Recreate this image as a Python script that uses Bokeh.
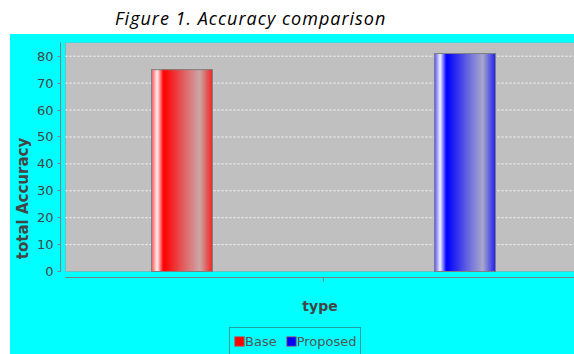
from bokeh.plotting import figure
from bokeh.models import Range1d, FixedTicker, BoxAnnotation, Legend, LegendItem, Div
from bokeh.layouts import column
from bokeh.embed import file_html
from bokeh.resources import INLINE

# ---- chart content ----
title_text = "Figure 1. Accuracy comparison"
x_label = "type"
y_label = "total Accuracy"
series = ["Base", "Proposed"]
accuracy = [75, 81]
series_rgb = [(255, 0, 0), (0, 0, 255)]
y_ticks = [0, 10, 20, 30, 40, 50, 60, 70, 80]

# ---- layout / style constants ----
BAR_OFFSETS = [-0.2742, 0.2742]   # dodge of each series inside the single category
BAR_WIDTH = 0.1182
X_START, X_END = -0.50969, 0.48643
Y_START, Y_END = -30.84, 85.1     # frame runs down to the bottom edge, axis is offset below zero
X_AXIS_AT = -2.23
CYAN = "#00ffff"
PLOT_GRAY = "#c0c0c0"
EDGE_GRAY = "#808080"
TEXT_GRAY = "#444444"
N_SLICES = 60


def mix(a, b, t):
    return tuple(int(round(a[i] + (b[i] - a[i]) * t)) for i in range(3))


def hexc(c):
    return "#%02x%02x%02x" % c


def shade(c, t):
    """Horizontal cylinder-like gradient across a bar (t from 0 to 1)."""
    white = (255, 255, 255)
    gray = (196, 196, 196)
    left = mix(c, white, 0.3)
    mid_gray = mix(c, gray, 0.9)
    right = mix(c, gray, 0.2)
    if t < 0.1:
        return mix(left, white, t / 0.1)
    if t < 0.2:
        return mix(white, c, (t - 0.1) / 0.1)
    if t < 0.8:
        return mix(c, mid_gray, (t - 0.2) / 0.6)
    return mix(mid_gray, right, (t - 0.8) / 0.2)


p = figure(width=564, height=320, output_backend="svg", toolbar_location=None,
           x_range=Range1d(X_START, X_END), y_range=Range1d(Y_START, Y_END),
           min_border_left=50, min_border_right=0, min_border_top=8, min_border_bottom=0)
p.margin = (0, 0, 0, 10)
p.styles = {"background-color": CYAN}
p.border_fill_color = CYAN
p.background_fill_alpha = 0
p.outline_line_color = None
p.xgrid.visible = False
p.ygrid.visible = False

# gray plotting area, starting at the category start and at zero
p.add_layout(BoxAnnotation(left=-0.5, bottom=0, fill_color=PLOT_GRAY, fill_alpha=1,
                           line_color=EDGE_GRAY, line_width=1, level="image"))

# dotted white grid lines inside the plotting area
grid_vals = y_ticks[1:]
p.segment(x0=[-0.5] * len(grid_vals), x1=[X_END] * len(grid_vals), y0=grid_vals, y1=grid_vals,
          line_color="white", line_dash="2 2", line_width=1, line_alpha=0.9)

legend_items = []
for name, val, rgb, off in zip(series, accuracy, series_rgb, BAR_OFFSETS):
    base = p.vbar(x=[off], top=[val], width=BAR_WIDTH, bottom=0,
                  fill_color=hexc(rgb), line_color=EDGE_GRAY, line_width=1)
    lefts, rights, cols = [], [], []
    for i in range(N_SLICES):
        t = (i + 0.5) / N_SLICES
        lefts.append(off - BAR_WIDTH / 2 + BAR_WIDTH * i / N_SLICES)
        rights.append(off - BAR_WIDTH / 2 + BAR_WIDTH * (i + 1) / N_SLICES)
        cols.append(hexc(shade(rgb, t)))
    p.quad(left=lefts, right=rights, bottom=[0] * N_SLICES, top=[val] * N_SLICES,
           fill_color=cols, line_color=cols, line_width=0.6)
    p.vbar(x=[off], top=[val], width=BAR_WIDTH, bottom=0,
           fill_color=None, line_color=EDGE_GRAY, line_width=1)
    legend_items.append(LegendItem(label=name, renderers=[base]))

# y axis
ya = p.yaxis[0]
ya.ticker = FixedTicker(ticks=y_ticks)
ya.bounds = (0, Y_END)
ya.axis_line_color = EDGE_GRAY
ya.major_tick_line_color = EDGE_GRAY
ya.major_tick_out = 3
ya.major_tick_in = 0
ya.minor_tick_line_color = None
ya.major_label_standoff = 4
ya.major_label_text_font = "DejaVu Sans"
ya.major_label_text_font_size = "13px"
ya.major_label_text_color = TEXT_GRAY
ya.axis_label = y_label
ya.axis_label_text_font = "DejaVu Sans"
ya.axis_label_text_font_size = "15px"
ya.axis_label_text_font_style = "bold"
ya.axis_label_text_color = TEXT_GRAY
ya.axis_label_standoff = 2

# x axis (single category, unlabeled tick), offset a little below zero
xa = p.xaxis[0]
xa.fixed_location = X_AXIS_AT
xa.ticker = FixedTicker(ticks=[0])
xa.major_label_overrides = {0: ""}
xa.bounds = (-0.5, X_END)
xa.axis_line_color = EDGE_GRAY
xa.major_tick_line_color = EDGE_GRAY
xa.major_tick_out = 4
xa.major_tick_in = 0
xa.minor_tick_line_color = None
xa.major_label_text_font_size = "13px"
xa.major_label_standoff = 0
xa.axis_label = x_label
xa.axis_label_text_font = "DejaVu Sans"
xa.axis_label_text_font_size = "14px"
xa.axis_label_text_font_style = "bold"
xa.axis_label_text_color = TEXT_GRAY
xa.axis_label_standoff = 16

legend = Legend(items=legend_items, location=(169, -1), orientation="horizontal",
                glyph_width=12, glyph_height=12, label_height=20,
                label_text_font="DejaVu Sans", label_text_font_size="13px",
                label_text_color="#555555", label_standoff=0, spacing=8,
                padding=3, margin=0, border_line_color=TEXT_GRAY, border_line_width=1,
                background_fill_color=CYAN, background_fill_alpha=1)
p.add_layout(legend)

title = Div(
    text=('<div style="position:relative; left:115px; top:6px; white-space:nowrap; '
          'font-family:\'Open Sans\'; font-style:italic; font-size:18px; letter-spacing:1px; color:#000;">'
          + title_text + '</div>'),
    width=574, height=34, margin=0)

layout = column(title, p, spacing=0)

with open("out.html", "w") as f:
    f.write(file_html(layout, INLINE))
